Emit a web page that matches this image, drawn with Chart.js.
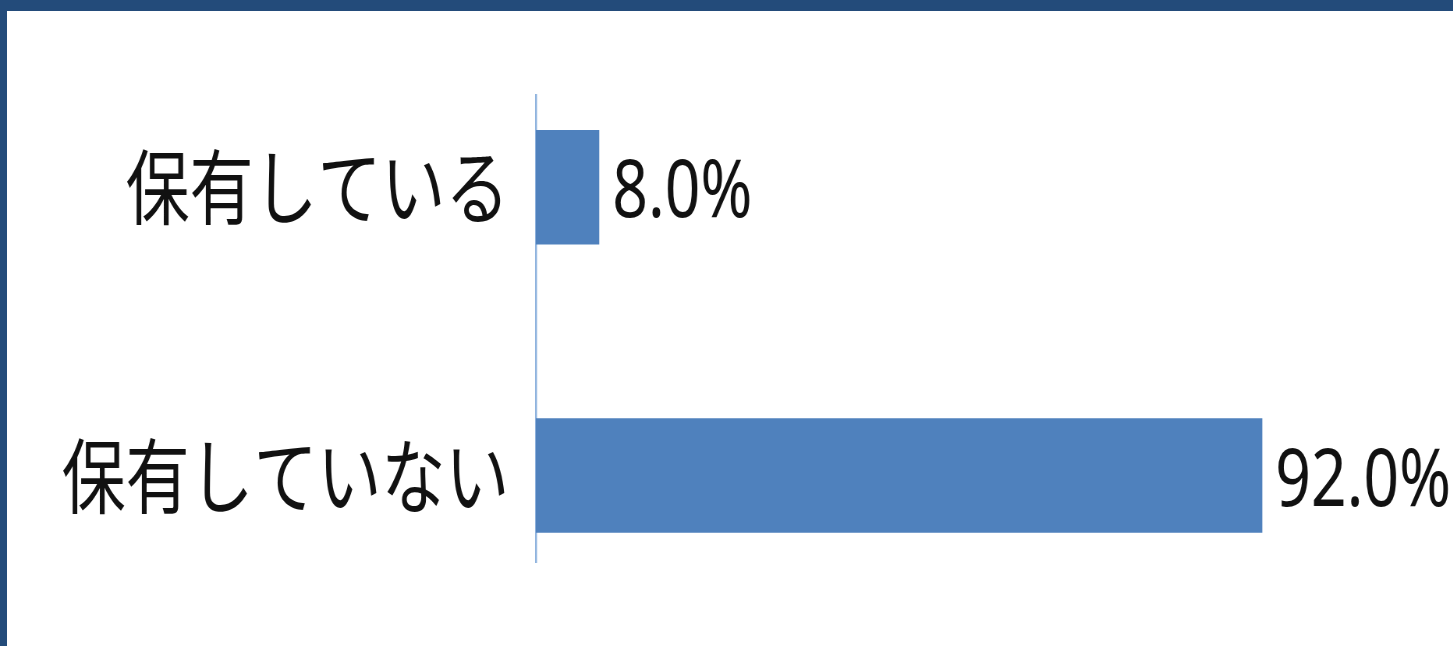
<!DOCTYPE html>
<html>
<head>
<meta charset="utf-8">
<script src="https://cdn.jsdelivr.net/npm/chart.js@4/dist/chart.umd.min.js"></script>
<style>
  html, body { margin: 0; padding: 0; background: #234b7a; width: 1453px; height: 646px; overflow: hidden; }
  #frame { position: absolute; left: 7px; top: 11px; width: 1446px; height: 635px; background: #ffffff; overflow: hidden; }
  #squeeze { position: absolute; left: 0; top: 0; width: 1854px; height: 635px; transform: scaleX(0.78); transform-origin: left top; }
</style>
</head>
<body>
<div id="frame"><div id="squeeze"><canvas id="c" width="1854" height="635"></canvas></div></div>
<script>
const categories = ['保有している', '保有していない'];
const values = [8.0, 92.0];

const points = values.map((v, i) => ({ x: v, y: i }));

const valueLabels = {
  id: 'valueLabels',
  afterDatasetsDraw(chart) {
    const ctx = chart.ctx;
    const meta = chart.getDatasetMeta(0);
    ctx.save();
    ctx.fillStyle = '#111111';
    ctx.font = '80px "Noto Sans"';
    ctx.textAlign = 'left';
    ctx.textBaseline = 'alphabetic';
    meta.data.forEach((bar, i) => {
      ctx.fillText(values[i].toFixed(1) + '%', bar.x + 17, bar.y + 30);
    });
    ctx.restore();
  }
};

new Chart(document.getElementById('c'), {
  type: 'bar',
  data: {
    datasets: [{
      data: points,
      backgroundColor: '#4f81bd',
      borderWidth: 0,
      barThickness: 114
    }]
  },
  options: {
    indexAxis: 'y',
    responsive: false,
    animation: false,
    devicePixelRatio: 1,
    layout: { padding: { left: 36, right: 164, top: 84, bottom: 84 } },
    plugins: { legend: { display: false }, tooltip: { enabled: false } },
    scales: {
      x: {
        type: 'linear',
        display: false,
        min: 0,
        max: 100
      },
      y: {
        type: 'linear',
        reverse: true,
        offset: false,
        min: -0.32,
        max: 1.30,
        afterBuildTicks: (scale) => { scale.ticks = scale.ticks.filter(t => Number.isInteger(t.value) && categories[t.value] !== undefined); },
        grid: { display: false, drawTicks: false },
        border: { display: true, color: '#8fb3de', width: 2.5 },
        ticks: {
          stepSize: 1,
          autoSkip: false,
          padding: 34,
          color: '#111111',
          font: { family: '"Noto Sans CJK JP"', size: 82 },
          callback: (v) => categories[v]
        }
      }
    }
  },
  plugins: [valueLabels]
});
</script>
</body>
</html>
